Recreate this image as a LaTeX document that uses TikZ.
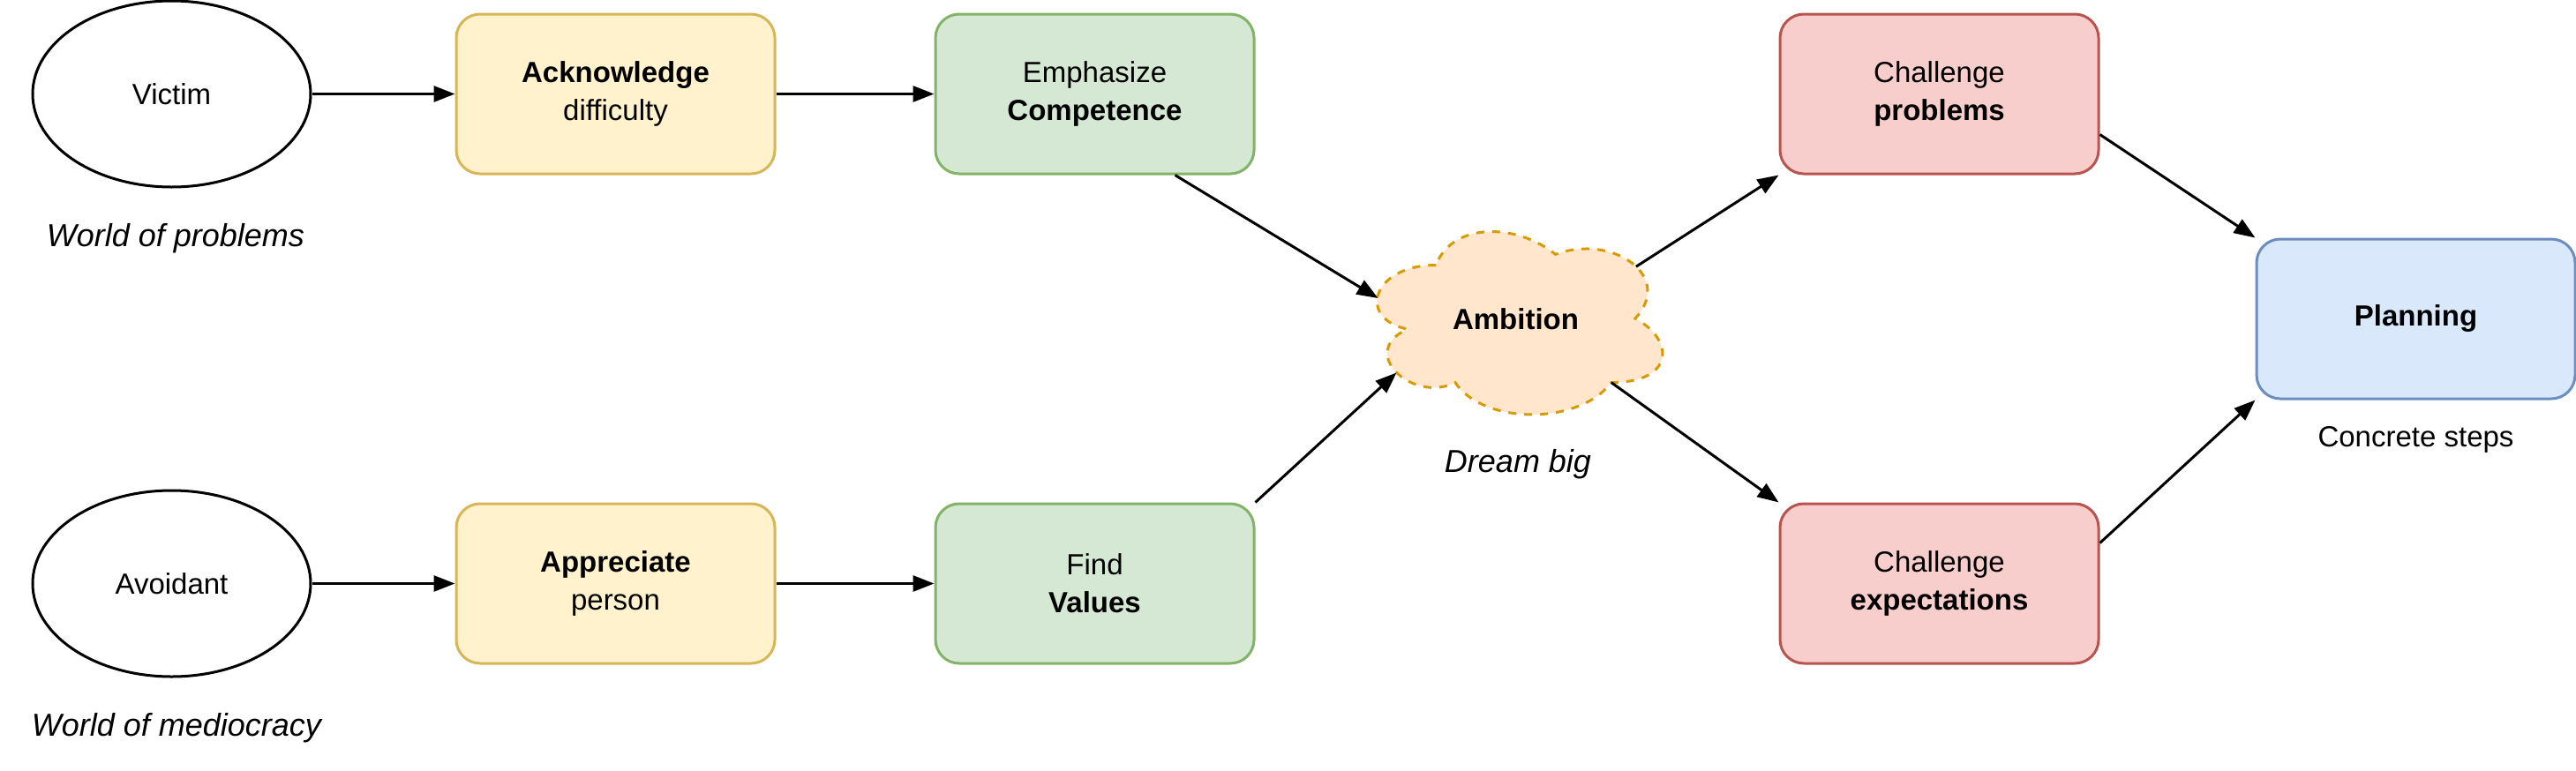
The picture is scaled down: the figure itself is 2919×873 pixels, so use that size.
\documentclass[tikz,border=0pt]{standalone}
\usepackage{fontspec}
\setmainfont{Liberation Sans}
\usetikzlibrary{arrows.meta,shapes.geometric,calc}
\definecolor{ylwF}{HTML}{FFF2CC}\definecolor{ylwD}{HTML}{D6B656}
\definecolor{grnF}{HTML}{D5E8D4}\definecolor{grnD}{HTML}{82B366}
\definecolor{redF}{HTML}{F8CECC}\definecolor{redD}{HTML}{B85450}
\definecolor{bluF}{HTML}{DAE8FC}\definecolor{bluD}{HTML}{6C8EBF}
\definecolor{orgF}{HTML}{FFE6CC}\definecolor{orgD}{HTML}{D79B00}
\tikzset{
  box/.style={rectangle, rounded corners=27pt, minimum width=361pt, minimum height=181pt,
    line width=3pt, inner sep=0pt, align=center},
  ybox/.style={box, fill=ylwF, draw=ylwD},
  gbox/.style={box, fill=grnF, draw=grnD},
  rbox/.style={box, fill=redF, draw=redD},
  bbox/.style={box, fill=bluF, draw=bluD},
  oval/.style={ellipse, draw=black, fill=white, line width=3pt, minimum width=315pt,
    minimum height=211pt, inner sep=0pt},
  conn/.style={line width=3pt, -{Triangle[length=24pt,width=18pt]}},
  cloudline/.style={fill=orgF, draw=orgD, line width=3pt, dash pattern=on 9pt off 9pt},
  note/.style={font=\fontsize{36}{43}\selectfont\itshape},
}
\begin{document}
\begin{tikzpicture}[x=1pt, y=-1pt, font=\fontsize{33}{43}\selectfont]
\useasboundingbox (0,0) rectangle (2919,873);
% cloud shape (draw.io cloud in a 361x242 box)
\begin{scope}[shift={(1537,240)}, x=361pt, y=-242pt]
  \draw[cloudline] (0.25,0.25) .. controls (0.05,0.25) and (0,0.5) .. (0.16,0.55)
    .. controls (0,0.66) and (0.18,0.9) .. (0.31,0.8)
    .. controls (0.4,1) and (0.7,1) .. (0.8,0.8)
    .. controls (1,0.8) and (1,0.6) .. (0.875,0.5)
    .. controls (1,0.3) and (0.8,0.1) .. (0.625,0.2)
    .. controls (0.5,0.05) and (0.3,0.05) .. (0.25,0.25) -- cycle;
  \coordinate (cA) at (0.068,0.405);
  \coordinate (cB) at (0.126,0.754);
  \coordinate (cC) at (0.878,0.257);
  \coordinate (cD) at (0.8,0.8);
\end{scope}
\node (amb) at (1717.5,362) {\textbf{Ambition}};

\node[oval] (victim) at (194.5,106.5) {Victim};
\node[oval] (avoid) at (194.5,661.5) {Avoidant};
\node[ybox] (ack) at (697.5,106.5) {\textbf{Acknowledge}\\difficulty};
\node[ybox] (appr) at (697.5,661.5) {\textbf{Appreciate}\\person};
\node[gbox] (emph) at (1240.5,106.5) {Emphasize\\\textbf{Competence}};
\node[gbox] (find) at (1240.5,661.5) {Find\\\textbf{Values}};
\node[rbox] (cp) at (2197.5,106.5) {Challenge\\\textbf{problems}};
\node[rbox] (ce) at (2197.5,661.5) {Challenge\\\textbf{expectations}};
\node[bbox] (plan) at (2737.5,361.5) {\textbf{Planning}};

\node[note] (wop) at (199,270) {World of problems};
\node[note] (wom) at (200,825) {World of mediocracy};
\node[note] (dream) at (1720,526) {Dream big};
\node (steps) at (2737.5,498) {Concrete steps};

\draw[conn] (victim.east) -- (ack.west);
\draw[conn] (ack.east) -- (emph.west);
\draw[conn] (avoid.east) -- (appr.west);
\draw[conn] (appr.east) -- (find.west);
\draw[conn] ($(emph.south west)!0.75!(emph.south east)$) -- (cA);
\draw[conn] (find.north east) -- (cB);
\draw[conn] (cC) -- (cp.south west);
\draw[conn] (cD) -- (ce.north west);
\draw[conn] ($(cp.north east)!0.75!(cp.south east)$) -- (plan.north west);
\draw[conn] ($(ce.north east)!0.25!(ce.south east)$) -- (plan.south west);
\end{tikzpicture}
\end{document}
